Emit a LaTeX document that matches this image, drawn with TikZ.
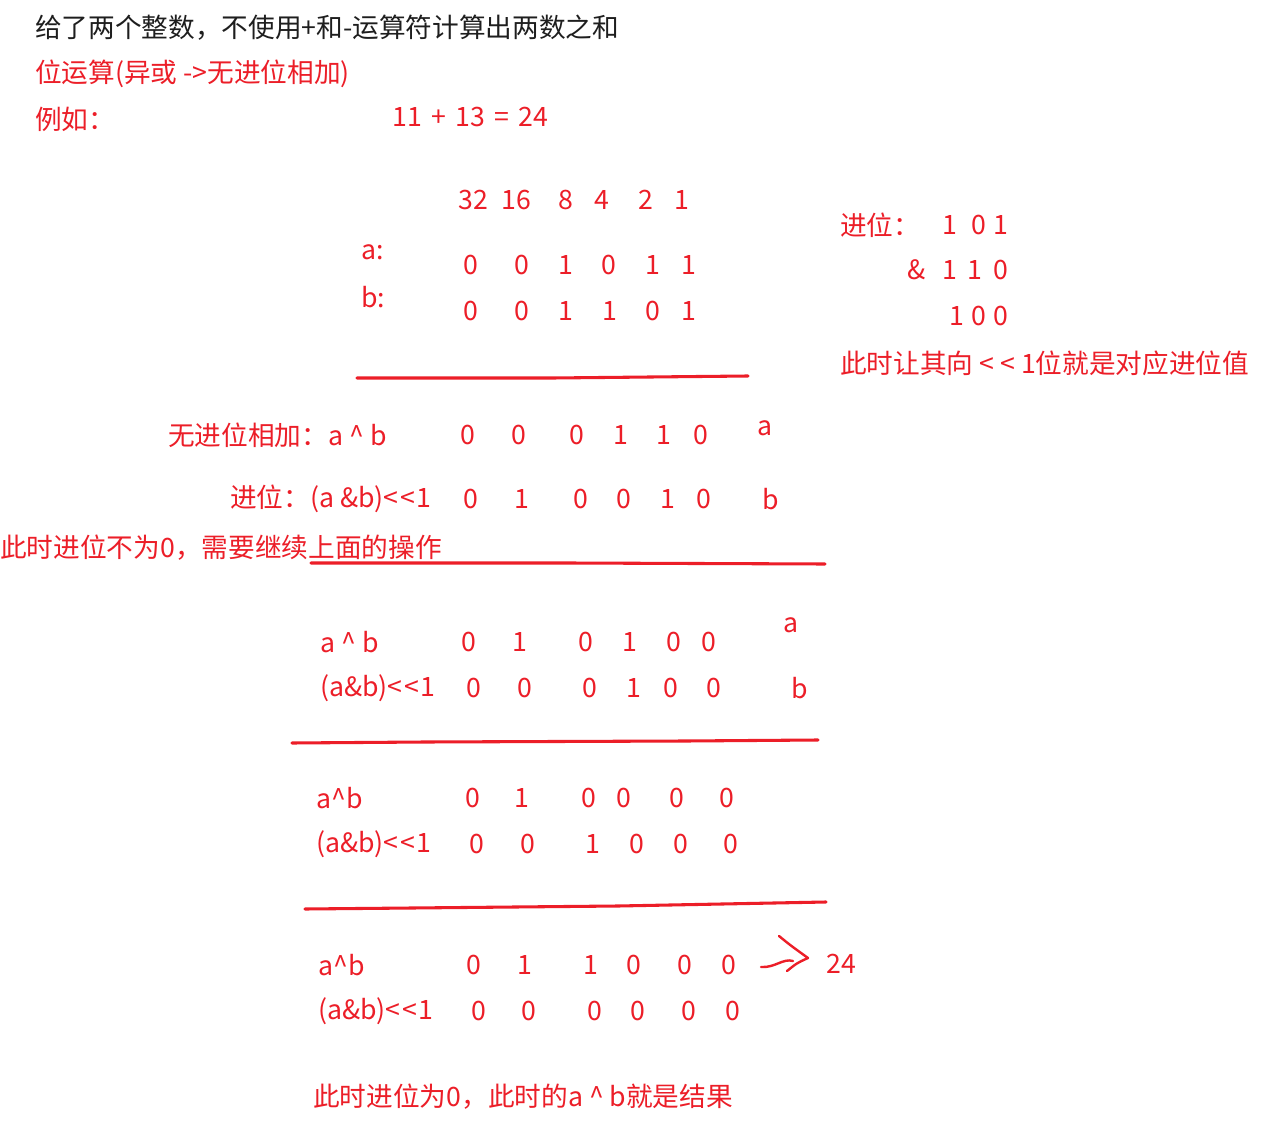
\documentclass[tikz,border=0pt]{standalone}
\usepackage{fontspec}
\setmainfont{Noto Sans CJK SC}[Ligatures=TeXOff]
\definecolor{rd}{RGB}{236,30,40}
\definecolor{ink}{RGB}{30,30,30}
\newcommand{\fs}{\fontsize{20}{24}\selectfont}
\begin{document}
\begin{tikzpicture}[x=0.75pt,y=-0.75pt,
  txt/.style={inner sep=0,anchor=west,text=rd,font=\fs},
  dg/.style={inner sep=0,text=rd,font=\fs},
  ul/.style={draw=rd,line width=2.3pt,line cap=round,line join=round}]
\useasboundingbox[fill=white] (0,0) rectangle (1268,1141);

% header
\node[txt,text=ink] (title) at (35,28) {给了两个整数，不使用+和-运算符计算出两数之和};
\node[txt] (sub) at (35,74) {位运算(异或 ->无进位相加)};
\node[txt] (eg) at (35,119) {例如：};
\node[txt] (eq) at (392,117) {11\hspace{7pt}+\hspace{7pt}13\hspace{7pt}=\hspace{7pt}24};

% weights
\foreach \x/\d [count=\i] in {473/32,516/16,566/8,602/4,646/2,682/1}
  \node[dg] (w\i) at (\x,200) {\d};
\node[txt] (la) at (361,252) {a:};
\node[txt] (lb) at (361,297) {b:};
\foreach \x/\d [count=\i] in {471/0,522/0,566/1,609/0,653/1,689/1}
  \node[dg] (a\i) at (\x,265) {\d};
\foreach \x/\d [count=\i] in {471/0,522/0,566/1,610/1,653/0,689/1}
  \node[dg] (b\i) at (\x,311) {\d};
\draw[ul] (357,378) -- (553,378) -- (748,376);

% carry explanation (right)
\node[txt] (cj) at (840,225) {进位：};
\foreach \x/\d [count=\i] in {950/1,979/0,1001/1}
  \node[dg] (c\i) at (\x,225) {\d};
\foreach \x/\d [count=\i] in {917/\&,950/1,975/1,1001/0}
  \node[dg] (d\i) at (\x,270) {\d};
\foreach \x/\d [count=\i] in {957/1,979/0,1001/0}
  \node[dg] (e\i) at (\x,316) {\d};
\node[txt] (shift) at (840,363) {此时让其向 < < 1位就是对应进位值};

% step 1
\node[txt] (s1a) at (168,435) {无进位相加：a \^{} b};
\foreach \x/\d [count=\i] in {468/0,519/0,577/0,621/1,664/1,701/0}
  \node[dg] (f\i) at (\x,435) {\d};
\node[dg] (fa) at (765,428) {a};
\node[txt] (s1b) at (230,499) {进位：(a \&b)<\kern1pt<\kern1pt1};
\foreach \x/\d [count=\i] in {471/0,522/1,581/0,624/0,668/1,704/0}
  \node[dg] (g\i) at (\x,499) {\d};
\node[dg] (gb) at (771,499) {b};
\node[txt] (note1) at (0,548) {此时进位不为0，需要继续上面的操作};
\draw[ul] (311,563) -- (568,563) -- (825,564);

% step 2
\node[txt] (s2a) at (320,642) {a \^{} b};
\foreach \x/\d [count=\i] in {469/0,520/1,586/0,630/1,674/0,709/0}
  \node[dg] (h\i) at (\x,642) {\d};
\node[dg] (ha) at (791,625) {a};
\node[txt] (s2b) at (320,688) {(a\&b)<\kern1pt<\kern1pt1};
\foreach \x/\d [count=\i] in {474/0,525/0,590/0,634/1,671/0,714/0}
  \node[dg] (k\i) at (\x,688) {\d};
\node[dg] (kb) at (800,688) {b};
\draw[ul] (292,743) -- (425,742) -- (686,741) -- (818,740);

% step 3
\node[txt] (s3a) at (316,798) {a\^{}b};
\foreach \x/\d [count=\i] in {473/0,522/1,589/0,624/0,677/0,727/0}
  \node[dg] (m\i) at (\x,798) {\d};
\node[txt] (s3b) at (316,844) {(a\&b)<\kern1pt<\kern1pt1};
\foreach \x/\d [count=\i] in {477/0,528/0,593/1,637/0,681/0,731/0}
  \node[dg] (n\i) at (\x,844) {\d};
\draw[ul] (305,909) -- (412,908) -- (618,906) -- (826,902);

% step 4
\node[txt] (s4a) at (318,965) {a\^{}b};
\foreach \x/\d [count=\i] in {474/0,525/1,591/1,634/0,685/0,729/0}
  \node[dg] (p\i) at (\x,965) {\d};
\node[txt] (s4b) at (318,1011) {(a\&b)<\kern1pt<\kern1pt1};
\foreach \x/\d [count=\i] in {479/0,529/0,595/0,638/0,689/0,733/0}
  \node[dg] (q\i) at (\x,1011) {\d};
\node[dg] (res) at (841,964) {24};
\coordinate (ar0) at (761,967);
\coordinate (ar1) at (793,961);
\coordinate (ar2) at (779,936);
\coordinate (ar3) at (808,958);
\coordinate (ar4) at (787,971);
\draw[draw=rd,line width=1.8pt,line cap=round] (ar0) .. controls (775,968) and (783,958) .. (ar1);
\draw[draw=rd,line width=1.8pt,line cap=round,line join=round] (ar2) .. controls (790,945) .. (ar3) .. controls (797,963) .. (ar4);
\node[txt] (note2) at (313,1097) {此时进位为0，此时的a \^{} b就是结果};
\end{tikzpicture}
\end{document}
